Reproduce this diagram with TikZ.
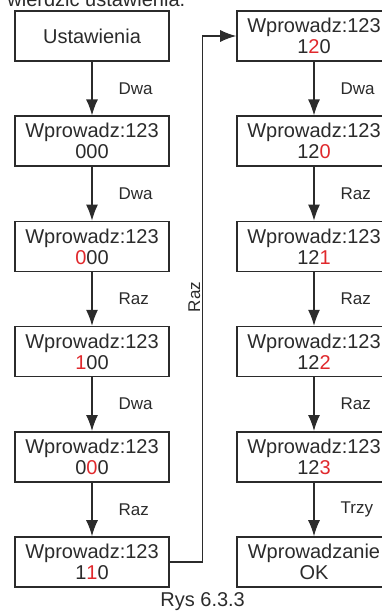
\documentclass[tikz,border=0pt]{standalone}
\usepackage{fontspec}
\setmainfont{Liberation Sans}
\usetikzlibrary{arrows.meta, positioning}
\definecolor{LineDark}{HTML}{2B2B2B}
\definecolor{DigitRed}{HTML}{E0282C}
\newcommand{\reddig}[1]{\textcolor{DigitRed}{#1}}
\tikzset{
  statebox/.style={draw=LineDark, line width=0.8pt, fill=white, align=center, minimum width=77pt, minimum height=25pt, inner sep=2pt, text=LineDark, font=\fontsize{10}{10.5}\selectfont},
  lbl/.style={inner sep=1pt, text=LineDark, font=\fontsize{8.5}{10}\selectfont},
  arrow/.style={-{Latex[length=8pt, width=6pt]}, line width=0.6pt, draw=LineDark}
}

\begin{document}
\begin{tikzpicture}[node distance=26.8pt]
\useasboundingbox (0,0) rectangle (190.5pt,-305.5pt);
\node[anchor=base west, inner sep=0pt, text=LineDark, font=\fontsize{10}{12}\selectfont] (title) at (3.5pt,-3.2pt) {wierdzic ustawienia.};
% left column
\node[statebox] (l1) at (46pt,-18pt) {Ustawienia};
\node[statebox, below=of l1] (l2) {Wprowadz:123\\000};
\node[statebox, below=of l2] (l3) {Wprowadz:123\\\reddig{0}00};
\node[statebox, below=of l3] (l4) {Wprowadz:123\\\reddig{1}00};
\node[statebox, below=of l4] (l5) {Wprowadz:123\\0\reddig{0}0};
\node[statebox, below=of l5] (l6) {Wprowadz:123\\1\reddig{1}0};
% right column
\node[statebox] (r1) at (157pt,-18pt) {Wprowadz:123\\1\reddig{2}0};
\node[statebox, below=of r1] (r2) {Wprowadz:123\\12\reddig{0}};
\node[statebox, below=of r2] (r3) {Wprowadz:123\\12\reddig{1}};
\node[statebox, below=of r3] (r4) {Wprowadz:123\\12\reddig{2}};
\node[statebox, below=of r4] (r5) {Wprowadz:123\\12\reddig{3}};
\node[statebox, below=of r5] (r6) {Wprowadzanie\\OK};
\node[anchor=base west, inner sep=0pt, text=LineDark, font=\fontsize{10}{12}\selectfont] (caption) at (80pt,-303pt) {Rys 6.3.3};

\draw[arrow] (l1) -- node[lbl, right=12pt] {Dwa} (l2);
\draw[arrow] (l2) -- node[lbl, right=12pt] {Dwa} (l3);
\draw[arrow] (l3) -- node[lbl, right=12pt] {Raz} (l4);
\draw[arrow] (l4) -- node[lbl, right=12pt] {Dwa} (l5);
\draw[arrow] (l5) -- node[lbl, right=12pt] {Raz} (l6);
\draw[arrow] (l6.east) -- ++(16.5pt,0) |- node[lbl, rotate=90, above=1pt, pos=0.25] {Raz} (r1.west);
\draw[arrow] (r1) -- node[lbl, right=12pt] {Dwa} (r2);
\draw[arrow] (r2) -- node[lbl, right=12pt] {Raz} (r3);
\draw[arrow] (r3) -- node[lbl, right=12pt] {Raz} (r4);
\draw[arrow] (r4) -- node[lbl, right=12pt] {Raz} (r5);
\draw[arrow] (r5) -- node[lbl, right=12pt] {Trzy} (r6);
\end{tikzpicture}
\end{document}
